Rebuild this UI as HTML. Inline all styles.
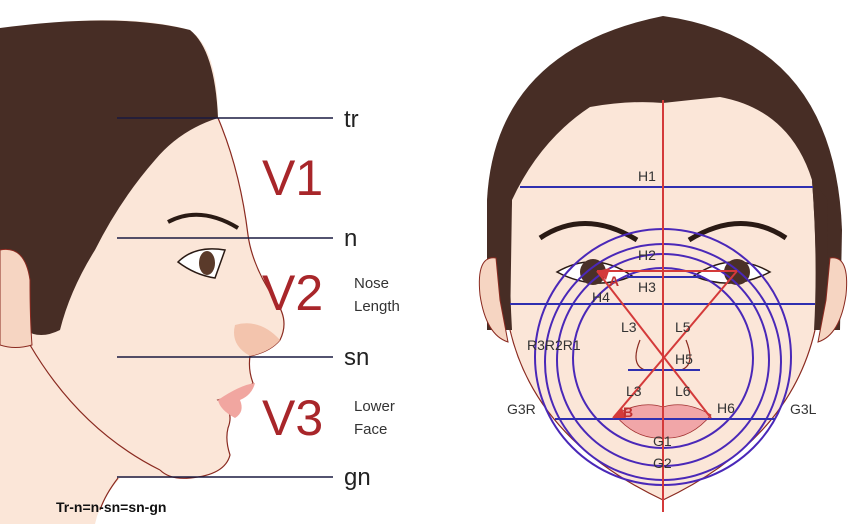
<!DOCTYPE html>
<html><head><meta charset="utf-8"><style>
body{margin:0;background:#fff}
svg{display:block}
text{font-family:"Liberation Sans",sans-serif}
</style></head><body>
<svg width="863" height="524" viewBox="0 0 863 524" xmlns="http://www.w3.org/2000/svg">
<!-- LEFT PROFILE -->
<path d="M0 30 Q120 10 190 30 Q218 50 218 118 Q240 170 248 235 Q252 265 275 300 Q290 320 280 340 Q270 352 250 356 Q248 370 253 383 Q245 392 218 400 Q235 410 228 428 Q225 440 230 455 Q225 475 190 478 L120 478 Q100 500 95 524 L0 524 Z" fill="#fbe6d8"/>
<path d="M218 118 Q240 170 248 235 Q252 265 275 300 Q290 320 280 340 Q270 352 250 356 Q248 370 253 383 Q245 392 218 400 Q235 410 228 428 Q225 440 230 455 Q225 475 190 478 Q170 480 160 470" fill="none" stroke="#8a2a20" stroke-width="1.2"/>
<path d="M30 345 Q80 430 160 470 M118 478 Q105 495 100 510" fill="none" stroke="#8a2a20" stroke-width="1.2"/>
<path d="M0 28 Q120 12 190 30 Q215 50 218 118 Q180 130 155 160 Q120 200 95 250 Q70 290 60 330 Q40 340 25 330 L0 340 Z" fill="#472d25"/>
<path d="M0 250 Q25 245 30 280 Q30 320 32 345 Q15 350 0 345 Z" fill="#f6d5c2" stroke="#8a2a20" stroke-width="1"/>
<path d="M168 222 Q200 205 238 228" fill="none" stroke="#2a1a14" stroke-width="4"/>
<path d="M178 262 Q195 245 225 250 L215 278 Q195 275 178 262Z" fill="#fff" stroke="#2a1a14" stroke-width="1.5"/>
<ellipse cx="207" cy="263" rx="8" ry="12" fill="#5a3a2a"/>
<path d="M235 325 Q260 318 280 340 Q270 352 250 356 Q230 345 235 325Z" fill="#f3c4ad"/>
<path d="M218 400 Q240 385 255 383 Q252 395 240 400 Q245 412 235 418 Q220 410 218 400Z" fill="#f1a6a0"/>
<g stroke="#1a1a40" stroke-width="1.6"><line x1="117" y1="118" x2="333" y2="118"/><line x1="117" y1="238" x2="333" y2="238"/><line x1="117" y1="357" x2="333" y2="357"/><line x1="117" y1="477" x2="333" y2="477"/></g>
<g font-size="24" fill="#222"><text x="344" y="127">tr</text><text x="344" y="246">n</text><text x="344" y="365">sn</text><text x="344" y="485">gn</text></g>
<g font-size="50" fill="#a8262a"><text x="262" y="195">V1</text><text x="262" y="310">V2</text><text x="262" y="435">V3</text></g>
<g font-size="15" fill="#333"><text x="354" y="288">Nose</text><text x="354" y="311">Length</text><text x="354" y="411">Lower</text><text x="354" y="434">Face</text></g>
<text x="56" y="512" font-size="14" font-weight="bold" fill="#111">Tr-n=n-sn=sn-gn</text>

<!-- RIGHT FACE -->
<path d="M487 330 L487 200 Q495 50 663 16 Q835 40 842 230 L840 330 L810 330 L515 330 Z" fill="#472d25"/>
<path d="M512 200 Q540 140 590 107 Q630 100 663 103 Q690 100 720 97 Q790 110 812 180 Q818 260 815 330 Q790 440 663 500 Q536 440 510 330 Z" fill="#fbe6d8"/>
<path d="M510 330 Q536 440 663 500 Q790 440 815 330" fill="none" stroke="#8a2a20" stroke-width="1.2"/>
<path d="M500 330 L512 330 Q508 260 512 200 L500 200Z M826 330 L814 330 Q818 260 812 180 L828 200Z" fill="#472d25"/>
<path d="M496 258 Q476 255 480 295 Q486 335 508 342 L500 300 Z" fill="#f6d5c2" stroke="#8a2a20"/>
<path d="M830 258 Q850 255 846 295 Q840 335 818 342 L826 300 Z" fill="#f6d5c2" stroke="#8a2a20"/>
<path d="M540 238 Q585 208 637 240 M689 240 Q741 208 786 238" fill="none" stroke="#2a1a14" stroke-width="5"/>
<path d="M557 272 Q595 250 632 276 Q595 292 557 272Z M694 276 Q732 250 770 272 Q732 292 694 276Z" fill="#fff" stroke="#2a1a14" stroke-width="1.5"/>
<circle cx="593" cy="272" r="13" fill="#4a3028"/><circle cx="737" cy="272" r="13" fill="#4a3028"/>
<path d="M615 415 Q640 400 663 407 Q686 400 711 415 Q690 440 663 438 Q636 440 615 415Z" fill="#f1a6a8" stroke="#a03030" stroke-width="0.8"/>
<path d="M640 340 Q630 365 645 370 M686 340 Q696 365 681 370" fill="none" stroke="#8a2a20" stroke-width="1.2"/>
<g fill="none" stroke="#4a28b8" stroke-width="2">
<circle cx="663" cy="358" r="90"/><circle cx="663" cy="360" r="106"/><circle cx="663" cy="362" r="118"/><circle cx="663" cy="357" r="128"/>
</g>
<g stroke="#2f2fb0" stroke-width="2">
<line x1="520" y1="187" x2="813" y2="187"/><line x1="510" y1="304" x2="815" y2="304"/>
<line x1="555" y1="419" x2="775" y2="419"/><line x1="627" y1="277" x2="701" y2="277"/><line x1="628" y1="370" x2="700" y2="370"/>
</g>
<g stroke="#d43a3a" stroke-width="2">
<line x1="663" y1="100" x2="663" y2="512"/>
<line x1="597" y1="271" x2="737" y2="271"/><line x1="597" y1="271" x2="711" y2="418"/><line x1="737" y1="271" x2="613" y2="418"/>
</g>
<polygon points="597,271 610,268 606,280" fill="#d43a3a"/><polygon points="613,418 622,408 626,418" fill="#d43a3a"/>
<g font-size="14" fill="#333">
<text x="638" y="181">H1</text><text x="638" y="260">H2</text><text x="638" y="292">H3</text><text x="592" y="302">H4</text>
<text x="621" y="332">L3</text><text x="675" y="332">L5</text><text x="675" y="364">H5</text>
<text x="626" y="396">L3</text><text x="675" y="396">L6</text><text x="717" y="413">H6</text>
<text x="527" y="350">R3R2R1</text><text x="507" y="414">G3R</text><text x="790" y="414">G3L</text>
<text x="653" y="446">G1</text><text x="653" y="468">G2</text>
</g>
<g font-size="14" font-weight="bold" fill="#c03030"><text x="609" y="286">A</text><text x="623" y="417">B</text></g>
</svg>
</body></html>
